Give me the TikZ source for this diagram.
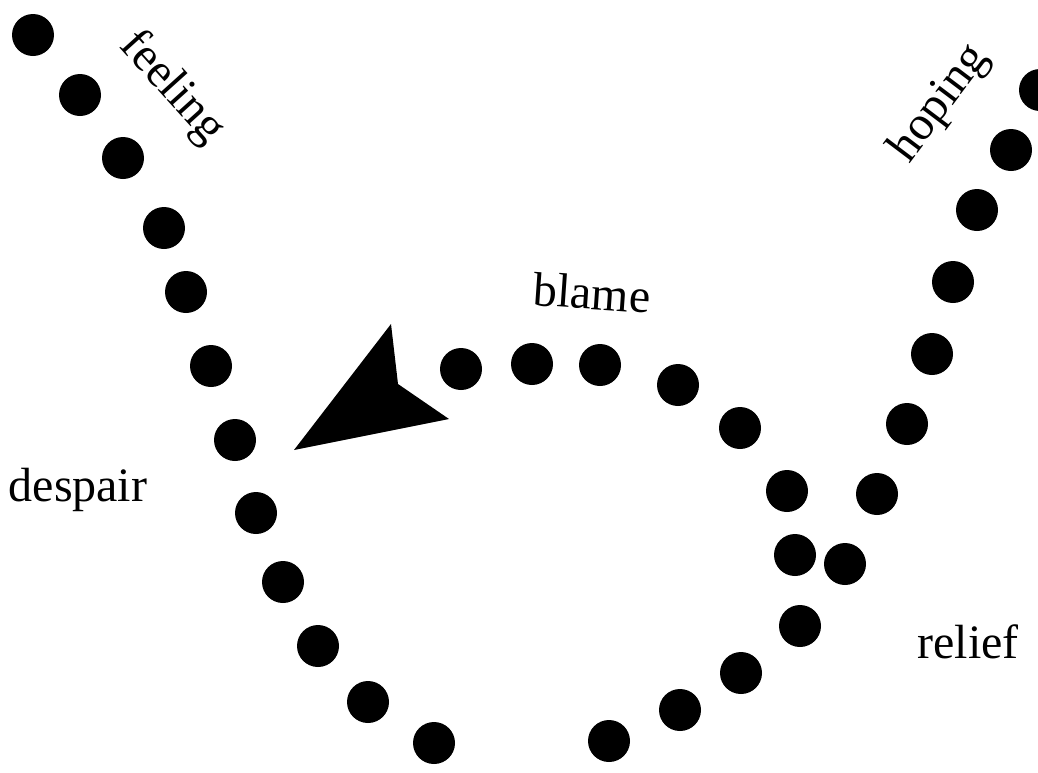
\documentclass[tikz,border=0pt]{standalone}
\usepackage{fontspec}
\setmainfont{Liberation Serif}
\begin{document}
\begin{tikzpicture}[x=1pt,y=-1pt,
  dot/.style={circle,fill=black,inner sep=0pt,minimum size=42pt},
  lbl/.style={inner sep=0pt,font=\fontsize{48}{56}\selectfont}]
\useasboundingbox (0,0) rectangle (1038,772);
\foreach \x/\y [count=\i] in {33/35,80/95,123/158,164/228,186/292,211/366,235/440,256/513,283/582,318/646,368/702,434/743,
  609/741,680/710,741/673,800/626,795/555,787/491,740/428,678/385,600/365,532/364,461/369,
  845/564,877/494,907/424,932/354,953/282,977/210,1011/150,1040/90}
  \node[dot] (d\i) at (\x,\y) {};
\fill[black] (294,450) -- (391,324) -- (398,384) -- (449,419) -- cycle;
\node[lbl,rotate=-48] (feeling) at (172,88) {feeling};
\node[lbl,rotate=53] (hoping) at (940,104) {hoping};
\node[lbl,rotate=-4] (blame) at (592,293) {blame};
\node[lbl] (despair) at (78,490) {despair};
\node[lbl] (relief) at (968,642) {relief};
\end{tikzpicture}
\end{document}
